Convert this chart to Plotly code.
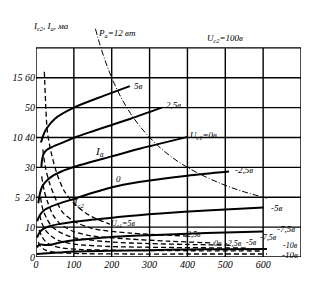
import plotly.graph_objects as go

# ---- data ----
# anode current I_a (solid) for grid voltages U_c1
ia_labels = ["5в", "2,5в", "U<sub>c1</sub>=0в", "-2,5в", "-5в", "-7,5в", "-10в"]
ia_x = [
    [13, 20, 28, 50, 100, 180, 248],
    [14, 16, 20, 28, 42, 76, 102, 150, 200, 250, 332],
    [6, 10, 16, 24, 42, 70, 102, 198, 276, 401],
    [3, 10, 20, 42, 70, 102, 150, 216, 300, 400, 510],
    [3, 10, 20, 35, 60, 100, 160, 224, 328, 450, 601],
    [2, 10, 25, 45, 70, 100, 150, 200, 300, 400, 500, 600],
    [2, 20, 60, 100, 200, 300, 400, 500, 610],
]
ia_y = [
    [38.3, 41, 43, 46.3, 50, 54, 57.2],
    [29.8, 32.5, 34.5, 35.8, 36.8, 38.6, 40, 42.1, 44.2, 46.3, 50],
    [18, 21, 23.5, 25, 27, 28.8, 30.2, 33.6, 36.3, 40.2],
    [12, 14, 15.5, 17, 18.3, 19.5, 21.5, 23.8, 25.6, 27.2, 28.6],
    [6.5, 8.3, 9.5, 10.3, 11, 11.8, 12.6, 13.5, 14.6, 15.6, 16.6],
    [3.2, 4.2, 4.0, 4.3, 5.0, 5.6, 6.2, 6.7, 7.3, 7.8, 8.2, 8.5],
    [1.0, 1.2, 1.5, 1.8, 2.1, 2.3, 2.5, 2.6, 2.7],
]

# screen-grid current I_c2 (dashed), plotted on the x4 scale
ic2_labels = ["U<sub>c1</sub>=5в", "2,5в", "0в", "-2,5в", "-5в", "-7,5в", "-10в"]
ic2_x = [
    [22, 26, 30, 40, 55, 75, 100, 140, 195],
    [18, 25, 35, 50, 70, 100, 150, 250, 400],
    [15, 22, 32, 45, 65, 100, 150, 250, 350, 470],
    [12, 18, 28, 40, 60, 100, 200, 300, 400, 510],
    [10, 15, 25, 40, 60, 100, 200, 350, 560],
    [8, 15, 25, 40, 70, 120, 250, 400, 600],
    [6, 12, 25, 50, 100, 250, 400, 610],
]
ic2_y = [
    [62, 50, 42, 35, 28, 22, 18, 14, 11],
    [36, 30, 25, 20, 15, 12, 9.5, 8, 7],
    [27, 22, 18, 14, 11, 8.5, 7, 6, 5.3, 4.7],
    [20, 16, 13, 10.5, 8.5, 6.5, 5, 4.5, 4.2, 4.0],
    [14, 11.5, 9, 7, 5.5, 4.3, 3.5, 3.2, 3.0],
    [9, 7, 5.2, 4, 3, 2.5, 2.2, 2.1, 2.0],
    [5, 3.5, 2.3, 1.6, 1.2, 1.0, 1.0, 1.0],
]

# allowed dissipation curve P_a = 12 W  (I_a = 12000 / U_a mA)
pa_x = [157, 170, 185, 200, 225, 250, 280, 320, 360, 400, 450, 500, 550, 610]
pa_y = [76.4, 70.6, 64.9, 60, 53.3, 48, 42.9, 37.5, 33.3, 30, 26.7, 24, 21.8, 19.7]

x_ticks = [0, 100, 200, 300, 400, 500, 600]
x_ticktext = ["0", "100", "200", "300", "400", "500", "600"]
y_ticks = [0, 10, 20, 30, 40, 50, 60]
y_ticktext = ["0", "10", "5  20", "30", "10 40", "50", "15 60"]

FONT = "Liberation Serif"
fig = go.Figure()

for xs, ys in zip(ia_x, ia_y):
    fig.add_trace(go.Scatter(x=xs, y=ys, mode="lines", line=dict(color="black", width=2, shape="spline", smoothing=0.8), hoverinfo="skip"))
for xs, ys in zip(ic2_x, ic2_y):
    fig.add_trace(go.Scatter(x=xs, y=ys, mode="lines", line=dict(color="black", width=1.3, dash="5px,3px", shape="spline", smoothing=0.8), hoverinfo="skip"))
fig.add_trace(go.Scatter(x=pa_x, y=pa_y, mode="lines", line=dict(color="black", width=1, dash="6px,2px,1px,2px", shape="spline"), hoverinfo="skip"))

shapes = []
for v in range(0, 800, 100):
    shapes.append(dict(type="line", x0=v, x1=v, y0=0, y1=70, line=dict(color="black", width=1.4), layer="below"))
for v in range(0, 80, 10):
    shapes.append(dict(type="line", x0=0, x1=700, y0=v, y1=v, line=dict(color="black", width=1.4), layer="below"))

ann = []
def lab(t, x, y, size=9):
    ann.append(dict(text=t, x=x, y=y, xref="x", yref="y", showarrow=False,
                    font=dict(family=FONT, size=size, color="black", style="italic"),
                    xanchor="center", yanchor="middle"))

ends = [(270, 57.4), (364, 50.8), (443, 40.6), (550, 29), (634, 16.4), (661, 9.4), (671, 0.8)]
for t, (x, y) in zip(ia_labels, ends):
    lab(t, x, y, 9)
dends = [(231, 11.1), (417, 7.4), (480, 4.6), (522, 4.6), (568, 4.9), (615, 6.6), (671, 3.8)]
for t, (x, y) in zip(ic2_labels, dends):
    lab(t, x, y, 8)
lab("I<sub>a</sub>", 168, 35.3, 11)
lab("I<sub>c2</sub>", 113, 18, 10)
lab("0", 218, 26, 9)
lab("P<sub>a</sub>=12 вт", 215, 74.7, 9)
lab("U<sub>c2</sub>=100в", 498, 73, 9)
lab("I<sub>c2</sub>, I<sub>a</sub>, ма", 40, 77.3, 9)
lab("U<sub>a</sub>, в", 721, -2.4, 10)

fig.update_layout(
    width=321, height=282,
    margin=dict(l=34, r=20, t=18, b=22),
    paper_bgcolor="white", plot_bgcolor="white",
    showlegend=False,
    shapes=shapes, annotations=ann,
    xaxis=dict(range=[0, 700], tickvals=x_ticks, ticktext=x_ticktext, showgrid=False, zeroline=False,
               showline=False, ticks="", tickfont=dict(family=FONT, size=10, color="black", style="italic")),
    yaxis=dict(range=[0, 80], tickvals=y_ticks, ticktext=y_ticktext, showgrid=False, zeroline=False,
               showline=False, ticks="", tickfont=dict(family=FONT, size=10, color="black", style="italic")),
)
fig.write_html("out.html")
